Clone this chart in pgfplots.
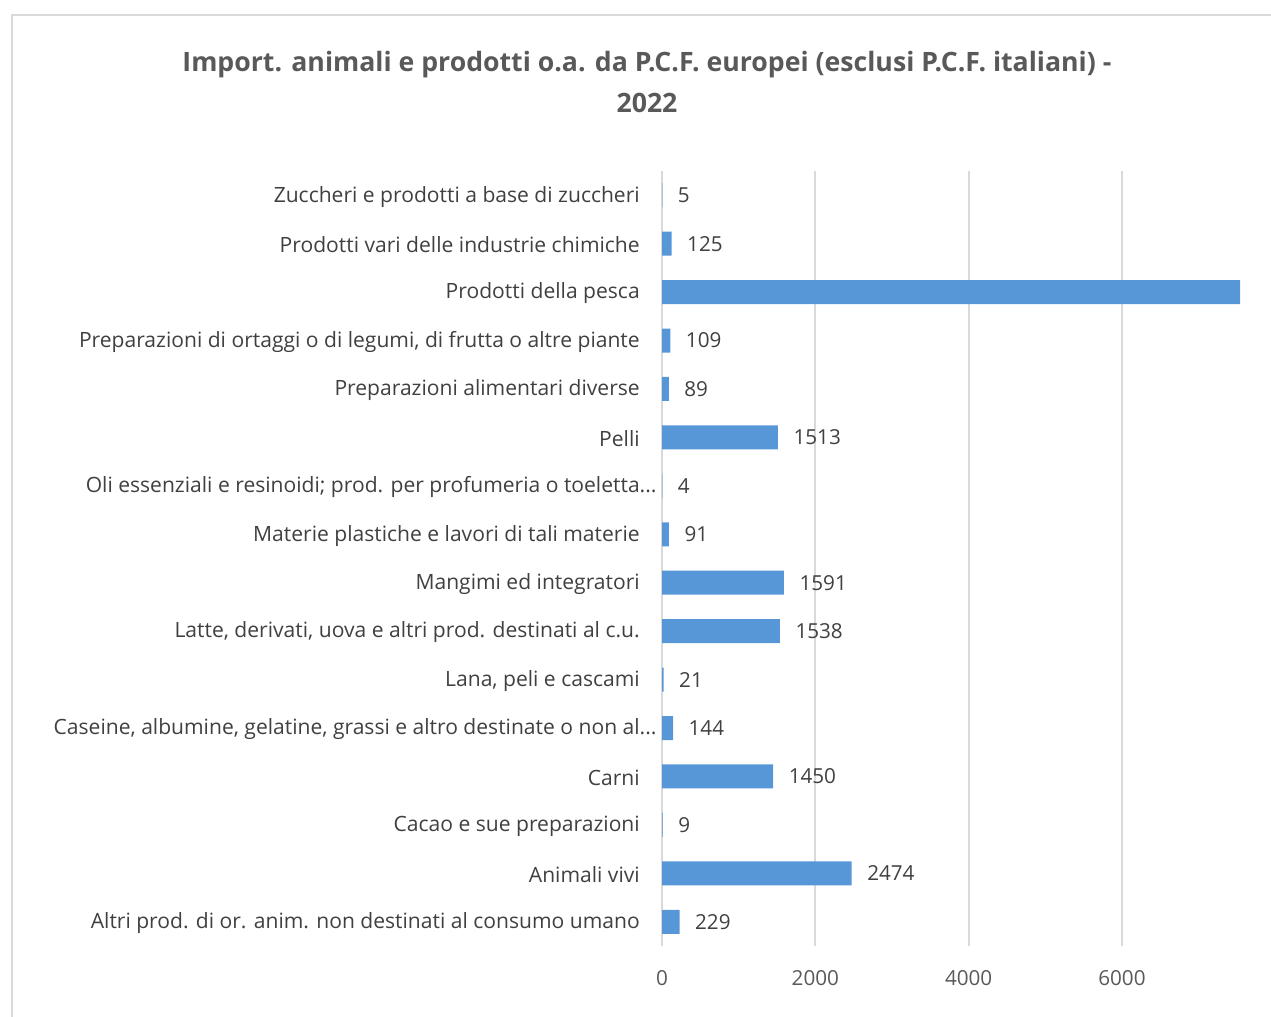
\documentclass[border=0pt]{standalone}
\usepackage{pgfplots}
\pgfplotsset{compat=1.18}
\usepackage{pgfplotstable}
\usepackage{fontspec}
\setmainfont{Open Sans}
\definecolor{txt}{HTML}{404040}
\definecolor{tickc}{HTML}{595959}
\definecolor{gridc}{HTML}{D9D9D9}
\definecolor{barc}{HTML}{5797D8}

\pgfplotstableread{
y val lab
0 229 229
1 2474 2474
2 9 9
3 1450 1450
4 144 144
5 21 21
6 1538 1538
7 1591 1591
8 91 91
9 4 4
10 1513 1513
11 89 89
12 109 109
13 7540 {}
14 125 125
15 5 5
}\datatable

\begin{document}
\begin{tikzpicture}
\path[use as bounding box] (0,0) rectangle (953.25pt,762.75pt);
\draw[gridc,line width=1.2pt] (9pt,-2pt) -- (9pt,751.5pt) -- (960pt,751.5pt);
\node[font=\fontsize{20}{24}\selectfont\bfseries, text=tickc] at (485.25pt,714pt) {Import. animali e prodotti o.a. da P.C.F. europei (esclusi P.C.F. italiani) -};
\node[font=\fontsize{20}{24}\selectfont\bfseries, text=tickc] at (485.25pt,685.5pt) {2022};
\begin{axis}[
  at={(496.5pt,53.25pt)}, anchor=south west,
  scale only axis, width=433.5pt, height=581.25pt,
  xbar, bar width=18pt,
  xmin=0, xmax=7540, ymin=-0.5, ymax=15.5,
  ytick={0,...,15},
  yticklabels={
    Altri prod. di or. anim. non destinati al consumo umano,
    Animali vivi,
    Cacao e sue preparazioni,
    Carni,
    {Caseine, albumine, gelatine, grassi e altro destinate o non al\rlap{...}},
    {Lana, peli e cascami},
    {Latte, derivati, uova e altri prod. destinati al c.u.},
    Mangimi ed integratori,
    Materie plastiche e lavori di tali materie,
    {Oli essenziali e resinoidi; prod. per profumeria o toeletta\rlap{...}},
    Pelli,
    Preparazioni alimentari diverse,
    {Preparazioni di ortaggi o di legumi, di frutta o altre piante},
    Prodotti della pesca,
    Prodotti vari delle industrie chimiche,
    Zuccheri e prodotti a base di zuccheri},
  xtick={0,2000,4000,6000},
  xmajorgrids, grid style={gridc, line width=1.5pt},
  axis line style={draw=none},
  major tick length=0pt,
  yticklabel style={font=\fontsize{15.8}{18}\selectfont, text=txt, anchor=east, inner sep=0pt, xshift=-16.5pt, yshift=-1pt},
  xticklabel style={font=\fontsize{15.5}{18}\selectfont, text=tickc, anchor=center, inner sep=0pt, yshift=-24pt},
  /pgf/number format/assume math mode=true,
  /pgf/number format/1000 sep={},
  nodes near coords,
  point meta=explicit symbolic,
  nodes near coords style={font=\fontsize{15.5}{18}\selectfont, text=txt, anchor=west, inner sep=0pt, xshift=11.5pt},
]
\addplot[draw=none, fill=barc] table[x=val, y=y, meta=lab] {\datatable};
\end{axis}
\end{tikzpicture}
\end{document}
